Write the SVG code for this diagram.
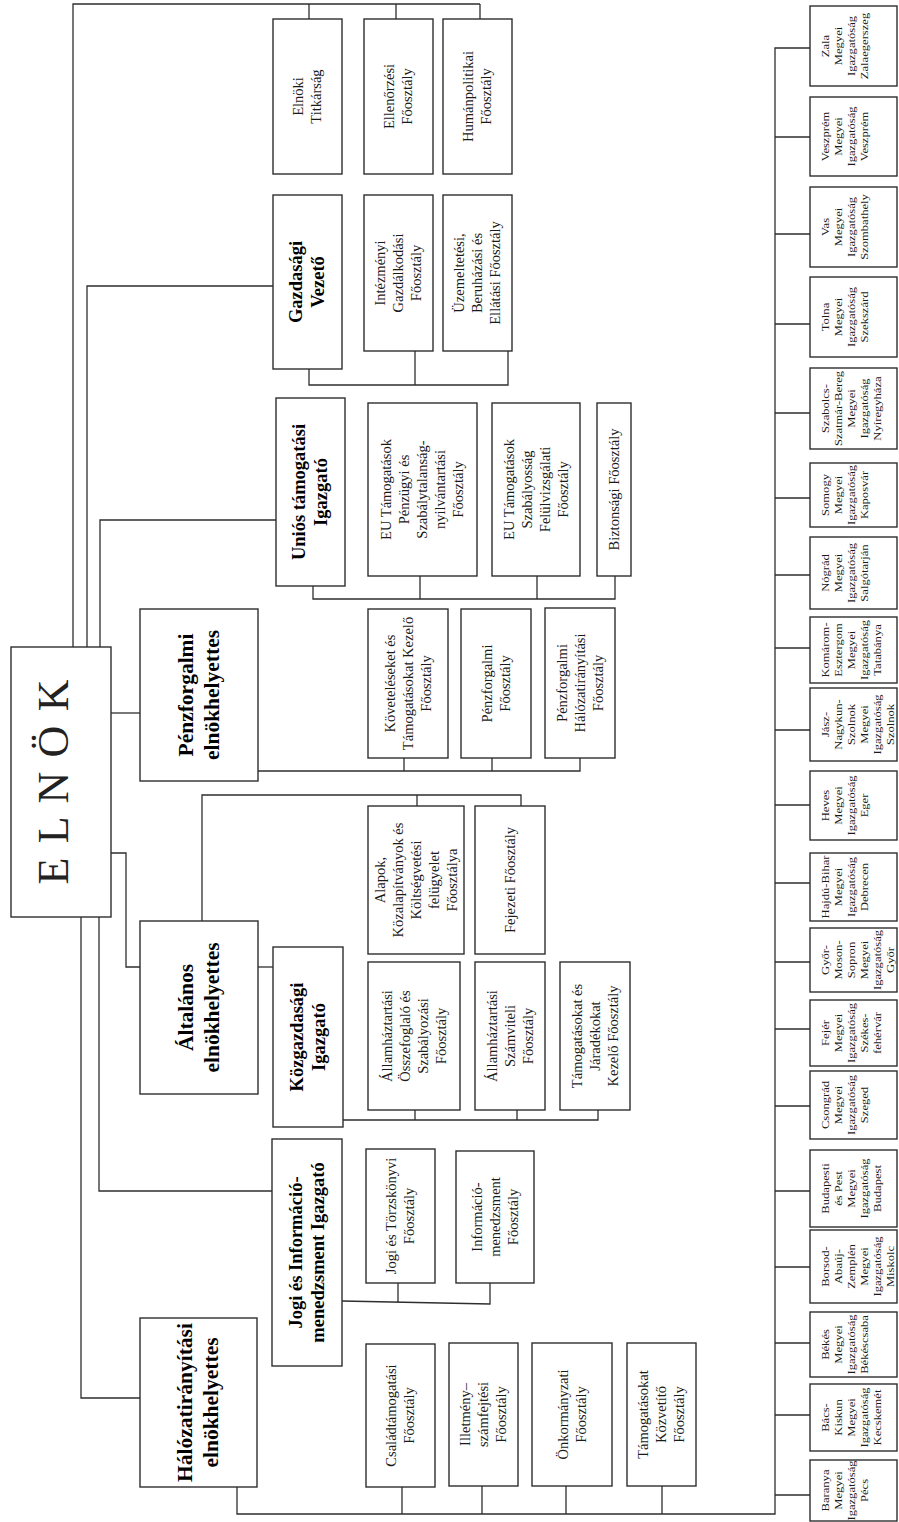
<svg xmlns="http://www.w3.org/2000/svg" width="899" height="1522" viewBox="0 0 899 1522">
<style>
.box{fill:#fff;stroke:#2e2e2e;stroke-width:1.4}
.con{fill:none;stroke:#2e2e2e;stroke-width:1.3}
.t{font-family:"Liberation Serif","Times New Roman",serif;fill:#1a1a1a;text-anchor:middle}
.sub{font-size:14.5px}
.dir{font-size:18.5px;font-weight:bold;fill:#000}
.vp{font-size:21.5px;font-weight:bold;fill:#000}
.cty{font-size:10.5px}
.el{font-size:44px;fill:#222}
</style>
<rect width="899" height="1522" fill="#fff"/>
<g id="connectors" class="con">
<path d="M73,647V4H480M309,4V19M396,4V19M480,4V19"/>
<path d="M87,647V286H273"/>
<path d="M309,369V385H508V351M415,351V385"/>
<path d="M100,647V520H276"/>
<path d="M313,586V599H615V576M420,576V599M537,576V599"/>
<path d="M111,713H140"/>
<path d="M258,771H580V758M404,758V771M492,758V771"/>
<path d="M111,853H126V967H140"/>
<path d="M202,921V795H521V806M417,795V806"/>
<path d="M258,967H273"/>
<path d="M343,1120H598V1110M415,1110V1120M517,1110V1120"/>
<path d="M99,917V1191H272"/>
<path d="M342,1301L490,1304V1283M398,1283V1303"/>
<path d="M81,917V1398H140"/>
<path d="M237,1487V1514H775V48H810M402,1487V1514M482,1486V1514M566,1486V1514M662,1486V1514"/>
<path d="M775,137H810M775,234H810M775,324H810M775,413H810M775,498H810M775,575H810M775,648H810M775,730H810M775,805H810M775,883H810M775,962H810M775,1029H810M775,1106H810M775,1191H810M775,1267H810M775,1343H810M775,1415H810M775,1495H810"/>
</g>

<g id="elnok">
<rect class="box" x="11" y="647" width="100" height="270"/>
<text class="t el" transform="translate(61,782) rotate(-90)" x="0" y="7" textLength="205" lengthAdjust="spacing">E L N Ö K</text>
</g>

<g id="gazdasagi-vezeto">
<rect class="box" x="273" y="195" width="69" height="174"/>
<text class="t dir" transform="translate(307.5,282) rotate(-90)"><tspan x="0" y="-5.1">Gazdasági</tspan><tspan x="0" y="16.9">Vezető</tspan></text>
</g>
<g id="unios">
<rect class="box" x="276" y="398" width="69" height="188"/>
<text class="t dir" transform="translate(310.5,492) rotate(-90)"><tspan x="0" y="-5.1">Uniós támogatási</tspan><tspan x="0" y="16.9">Igazgató</tspan></text>
</g>
<g id="penzforgalmi-eh">
<rect class="box" x="140" y="609" width="118" height="172"/>
<text class="t vp" transform="translate(199,695) rotate(-90)"><tspan x="0" y="-6.1">Pénzforgalmi</tspan><tspan x="0" y="19.9">elnökhelyettes</tspan></text>
</g>
<g id="altalanos-eh">
<rect class="box" x="140" y="921" width="118" height="173"/>
<text class="t vp" transform="translate(199,1007.5) rotate(-90)"><tspan x="0" y="-6.1">Általános</tspan><tspan x="0" y="19.9">elnökhelyettes</tspan></text>
</g>
<g id="kozgazdasagi">
<rect class="box" x="273" y="947" width="70" height="180"/>
<text class="t dir" transform="translate(308,1037) rotate(-90)"><tspan x="0" y="-5.1">Közgazdasági</tspan><tspan x="0" y="16.9">Igazgató</tspan></text>
</g>
<g id="jogi-igazgato">
<rect class="box" x="272" y="1139" width="70" height="227"/>
<text class="t dir" transform="translate(307,1252.5) rotate(-90)"><tspan x="0" y="-5.1">Jogi és Információ-</tspan><tspan x="0" y="16.9">menedzsment Igazgató</tspan></text>
</g>
<g id="halozatiranyitasi-eh">
<rect class="box" x="140" y="1318" width="117" height="169"/>
<text class="t vp" transform="translate(198.5,1402.5) rotate(-90)"><tspan x="0" y="-6.1">Hálózatirányítási</tspan><tspan x="0" y="19.9">elnökhelyettes</tspan></text>
</g>

<g id="elnoki-titkarsag">
<rect class="box" x="273" y="19" width="69" height="155"/>
<text class="t sub" transform="translate(307.5,96.5) rotate(-90)"><tspan x="0" y="-4.4">Elnöki</tspan><tspan x="0" y="13.6">Titkárság</tspan></text>
</g>
<g id="ellenorzesi">
<rect class="box" x="364" y="19" width="69" height="155"/>
<text class="t sub" transform="translate(398.5,96.5) rotate(-90)"><tspan x="0" y="-4.4">Ellenőrzési</tspan><tspan x="0" y="13.6">Főosztály</tspan></text>
</g>
<g id="humanpolitikai">
<rect class="box" x="443" y="19" width="69" height="155"/>
<text class="t sub" transform="translate(477.5,96.5) rotate(-90)"><tspan x="0" y="-4.4">Humánpolitikai</tspan><tspan x="0" y="13.6">Főosztály</tspan></text>
</g>
<g id="intezmenyi">
<rect class="box" x="364" y="195" width="69" height="156"/>
<text class="t sub" transform="translate(398.5,273) rotate(-90)"><tspan x="0" y="-13.4">Intézményi</tspan><tspan x="0" y="4.6">Gazdálkodási</tspan><tspan x="0" y="22.6">Főosztály</tspan></text>
</g>
<g id="uzemeltetesi">
<rect class="box" x="443" y="195" width="69" height="156"/>
<text class="t sub" transform="translate(477.5,273) rotate(-90)"><tspan x="0" y="-13.4">Üzemeltetési,</tspan><tspan x="0" y="4.6">Beruházási és</tspan><tspan x="0" y="22.6">Ellátási Főosztály</tspan></text>
</g>
<g id="eu-penzugyi">
<rect class="box" x="368" y="403" width="109" height="173"/>
<text class="t sub" transform="translate(422.5,489.5) rotate(-90)"><tspan x="0" y="-31.4">EU Támogatások</tspan><tspan x="0" y="-13.4">Pénzügyi és</tspan><tspan x="0" y="4.6">Szabálytalanság-</tspan><tspan x="0" y="22.6">nyilvántartási</tspan><tspan x="0" y="40.6">Főosztály</tspan></text>
</g>
<g id="eu-szabalyossag">
<rect class="box" x="492" y="403" width="88" height="173"/>
<text class="t sub" transform="translate(536,489.5) rotate(-90)"><tspan x="0" y="-22.4">EU Támogatások</tspan><tspan x="0" y="-4.4">Szabályosság</tspan><tspan x="0" y="13.6">Felülvizsgálati</tspan><tspan x="0" y="31.6">Főosztály</tspan></text>
</g>
<g id="biztonsagi">
<rect class="box" x="597" y="403" width="34" height="173"/>
<text class="t sub" transform="translate(614,489.5) rotate(-90)"><tspan x="0" y="4.6">Biztonsági Főosztály</tspan></text>
</g>
<g id="koveteleseket">
<rect class="box" x="368" y="609" width="80" height="149"/>
<text class="t sub" transform="translate(408,683.5) rotate(-90)"><tspan x="0" y="-13.4">Követeléseket és</tspan><tspan x="0" y="4.6">Támogatásokat Kezelő</tspan><tspan x="0" y="22.6">Főosztály</tspan></text>
</g>
<g id="penzforgalmi-fo">
<rect class="box" x="461" y="609" width="70" height="149"/>
<text class="t sub" transform="translate(496,683.5) rotate(-90)"><tspan x="0" y="-4.4">Pénzforgalmi</tspan><tspan x="0" y="13.6">Főosztály</tspan></text>
</g>
<g id="penzforgalmi-halozat">
<rect class="box" x="545" y="608" width="70" height="150"/>
<text class="t sub" transform="translate(580,683) rotate(-90)"><tspan x="0" y="-13.4">Pénzforgalmi</tspan><tspan x="0" y="4.6">Hálózatirányítási</tspan><tspan x="0" y="22.6">Főosztály</tspan></text>
</g>
<g id="alapok">
<rect class="box" x="368" y="806" width="96" height="148"/>
<text class="t sub" transform="translate(416,880) rotate(-90)"><tspan x="0" y="-31.4">Alapok,</tspan><tspan x="0" y="-13.4">Közalapítványok és</tspan><tspan x="0" y="4.6">Költségvetési</tspan><tspan x="0" y="22.6">felügyelet</tspan><tspan x="0" y="40.6">Főosztálya</tspan></text>
</g>
<g id="fejezeti">
<rect class="box" x="475" y="806" width="70" height="148"/>
<text class="t sub" transform="translate(510,880) rotate(-90)"><tspan x="0" y="4.6">Fejezeti Főosztály</tspan></text>
</g>
<g id="aht-osszefoglalo">
<rect class="box" x="368" y="962" width="92" height="148"/>
<text class="t sub" transform="translate(414,1036) rotate(-90)"><tspan x="0" y="-22.4">Államháztartási</tspan><tspan x="0" y="-4.4">Összefoglaló és</tspan><tspan x="0" y="13.6">Szabályozási</tspan><tspan x="0" y="31.6">Főosztály</tspan></text>
</g>
<g id="aht-szamviteli">
<rect class="box" x="475" y="962" width="70" height="148"/>
<text class="t sub" transform="translate(510,1036) rotate(-90)"><tspan x="0" y="-13.4">Államháztartási</tspan><tspan x="0" y="4.6">Számviteli</tspan><tspan x="0" y="22.6">Főosztály</tspan></text>
</g>
<g id="tamogatasokat-jaradekokat">
<rect class="box" x="560" y="962" width="70" height="148"/>
<text class="t sub" transform="translate(595,1036) rotate(-90)"><tspan x="0" y="-13.4">Támogatásokat és</tspan><tspan x="0" y="4.6">Járadékokat</tspan><tspan x="0" y="22.6">Kezelő Főosztály</tspan></text>
</g>
<g id="jogi-torzskonyvi">
<rect class="box" x="366" y="1149" width="69" height="134"/>
<text class="t sub" transform="translate(400.5,1216) rotate(-90)"><tspan x="0" y="-4.4">Jogi és Törzskönyvi</tspan><tspan x="0" y="13.6">Főosztály</tspan></text>
</g>
<g id="informacio-menedzsment">
<rect class="box" x="456" y="1151" width="78" height="132"/>
<text class="t sub" transform="translate(495,1217) rotate(-90)"><tspan x="0" y="-13.4">Információ-</tspan><tspan x="0" y="4.6">menedzsment</tspan><tspan x="0" y="22.6">Főosztály</tspan></text>
</g>
<g id="csaladtamogatasi">
<rect class="box" x="366" y="1344" width="69" height="143"/>
<text class="t sub" transform="translate(400.5,1415.5) rotate(-90)"><tspan x="0" y="-4.4">Családtámogatási</tspan><tspan x="0" y="13.6">Főosztály</tspan></text>
</g>
<g id="illetmeny">
<rect class="box" x="449" y="1343" width="69" height="143"/>
<text class="t sub" transform="translate(483.5,1414.5) rotate(-90)"><tspan x="0" y="-13.4">Illetmény–</tspan><tspan x="0" y="4.6">számfejtési</tspan><tspan x="0" y="22.6">Főosztály</tspan></text>
</g>
<g id="onkormanyzati">
<rect class="box" x="532" y="1343" width="80" height="143"/>
<text class="t sub" transform="translate(572,1414.5) rotate(-90)"><tspan x="0" y="-4.4">Önkormányzati</tspan><tspan x="0" y="13.6">Főosztály</tspan></text>
</g>
<g id="tamogatasokat-kozvetito">
<rect class="box" x="627" y="1343" width="69" height="143"/>
<text class="t sub" transform="translate(661.5,1414.5) rotate(-90)"><tspan x="0" y="-13.4">Támogatásokat</tspan><tspan x="0" y="4.6">Közvetítő</tspan><tspan x="0" y="22.6">Főosztály</tspan></text>
</g>

<g id="zala"><rect class="box" x="810" y="6" width="87" height="80"/>
<text class="t cty" transform="translate(810,46) rotate(-90) scale(1.2,1)"><tspan x="0" y="19.4">Zala</tspan><tspan x="0" y="32.4">Megyei</tspan><tspan x="0" y="45.4">Igazgatóság</tspan><tspan x="0" y="58.4">Zalaegerszeg</tspan></text></g>
<g id="veszprem"><rect class="box" x="810" y="97" width="87" height="79"/>
<text class="t cty" transform="translate(810,136.5) rotate(-90) scale(1.2,1)"><tspan x="0" y="19.4">Veszprém</tspan><tspan x="0" y="32.4">Megyei</tspan><tspan x="0" y="45.4">Igazgatóság</tspan><tspan x="0" y="58.4">Veszprém</tspan></text></g>
<g id="vas"><rect class="box" x="810" y="187" width="87" height="80"/>
<text class="t cty" transform="translate(810,227) rotate(-90) scale(1.2,1)"><tspan x="0" y="19.4">Vas</tspan><tspan x="0" y="32.4">Megyei</tspan><tspan x="0" y="45.4">Igazgatóság</tspan><tspan x="0" y="58.4">Szombathely</tspan></text></g>
<g id="tolna"><rect class="box" x="810" y="277" width="87" height="80"/>
<text class="t cty" transform="translate(810,317) rotate(-90) scale(1.2,1)"><tspan x="0" y="19.4">Tolna</tspan><tspan x="0" y="32.4">Megyei</tspan><tspan x="0" y="45.4">Igazgatóság</tspan><tspan x="0" y="58.4">Szekszárd</tspan></text></g>
<g id="szabolcs"><rect class="box" x="810" y="368" width="87" height="81"/>
<text class="t cty" transform="translate(810,408.5) rotate(-90) scale(1.2,1)"><tspan x="0" y="19.4">Szabolcs-</tspan><tspan x="0" y="32.4">Szatmár-Bereg</tspan><tspan x="0" y="45.4">Megyei</tspan><tspan x="0" y="58.4">Igazgatóság</tspan><tspan x="0" y="71.4">Nyíregyháza</tspan></text></g>
<g id="somogy"><rect class="box" x="810" y="463" width="87" height="64"/>
<text class="t cty" transform="translate(810,495) rotate(-90) scale(1.2,1)"><tspan x="0" y="19.4">Somogy</tspan><tspan x="0" y="32.4">Megyei</tspan><tspan x="0" y="45.4">Igazgatóság</tspan><tspan x="0" y="58.4">Kaposvár</tspan></text></g>
<g id="nograd"><rect class="box" x="810" y="537" width="87" height="72"/>
<text class="t cty" transform="translate(810,573) rotate(-90) scale(1.2,1)"><tspan x="0" y="19.4">Nógrád</tspan><tspan x="0" y="32.4">Megyei</tspan><tspan x="0" y="45.4">Igazgatóság</tspan><tspan x="0" y="58.4">Salgótarján</tspan></text></g>
<g id="komarom"><rect class="box" x="810" y="617" width="87" height="66"/>
<text class="t cty" transform="translate(810,650) rotate(-90) scale(1.2,1)"><tspan x="0" y="19.4">Komárom-</tspan><tspan x="0" y="32.4">Esztergom</tspan><tspan x="0" y="45.4">Megyei</tspan><tspan x="0" y="58.4">Igazgatóság</tspan><tspan x="0" y="71.4">Tatabánya</tspan></text></g>
<g id="jasz"><rect class="box" x="810" y="688" width="87" height="73"/>
<text class="t cty" transform="translate(810,724.5) rotate(-90) scale(1.2,1)"><tspan x="0" y="19.4">Jász-</tspan><tspan x="0" y="32.4">Nagykun-</tspan><tspan x="0" y="45.4">Szolnok</tspan><tspan x="0" y="58.4">Megyei</tspan><tspan x="0" y="71.4">Igazgatóság</tspan><tspan x="0" y="84.4">Szolnok</tspan></text></g>
<g id="heves"><rect class="box" x="810" y="771" width="87" height="69"/>
<text class="t cty" transform="translate(810,805.5) rotate(-90) scale(1.2,1)"><tspan x="0" y="19.4">Heves</tspan><tspan x="0" y="32.4">Megyei</tspan><tspan x="0" y="45.4">Igazgatóság</tspan><tspan x="0" y="58.4">Eger</tspan></text></g>
<g id="hajdu"><rect class="box" x="810" y="853" width="87" height="68"/>
<text class="t cty" transform="translate(810,887) rotate(-90) scale(1.2,1)"><tspan x="0" y="19.4">Hajdú-Bihar</tspan><tspan x="0" y="32.4">Megyei</tspan><tspan x="0" y="45.4">Igazgatóság</tspan><tspan x="0" y="58.4">Debrecen</tspan></text></g>
<g id="gyor"><rect class="box" x="810" y="928" width="87" height="64"/>
<text class="t cty" transform="translate(810,960) rotate(-90) scale(1.2,1)"><tspan x="0" y="19.4">Győr-</tspan><tspan x="0" y="32.4">Moson-</tspan><tspan x="0" y="45.4">Sopron</tspan><tspan x="0" y="58.4">Megyei</tspan><tspan x="0" y="71.4">Igazgatóság</tspan><tspan x="0" y="84.4">Győr</tspan></text></g>
<g id="fejer"><rect class="box" x="810" y="1000" width="87" height="66"/>
<text class="t cty" transform="translate(810,1033) rotate(-90) scale(1.2,1)"><tspan x="0" y="19.4">Fejér</tspan><tspan x="0" y="32.4">Megyei</tspan><tspan x="0" y="45.4">Igazgatóság</tspan><tspan x="0" y="58.4">Székes-</tspan><tspan x="0" y="71.4">fehérvár</tspan></text></g>
<g id="csongrad"><rect class="box" x="810" y="1071" width="87" height="68"/>
<text class="t cty" transform="translate(810,1105) rotate(-90) scale(1.2,1)"><tspan x="0" y="19.4">Csongrád</tspan><tspan x="0" y="32.4">Megyei</tspan><tspan x="0" y="45.4">Igazgatóság</tspan><tspan x="0" y="58.4">Szeged</tspan></text></g>
<g id="budapesti"><rect class="box" x="810" y="1150" width="87" height="77"/>
<text class="t cty" transform="translate(810,1188.5) rotate(-90) scale(1.2,1)"><tspan x="0" y="19.4">Budapesti</tspan><tspan x="0" y="32.4">és Pest</tspan><tspan x="0" y="45.4">Megyei</tspan><tspan x="0" y="58.4">Igazgatóság</tspan><tspan x="0" y="71.4">Budapest</tspan></text></g>
<g id="borsod"><rect class="box" x="810" y="1230" width="87" height="73"/>
<text class="t cty" transform="translate(810,1266.5) rotate(-90) scale(1.2,1)"><tspan x="0" y="19.4">Borsod-</tspan><tspan x="0" y="32.4">Abaúj-</tspan><tspan x="0" y="45.4">Zemplén</tspan><tspan x="0" y="58.4">Megyei</tspan><tspan x="0" y="71.4">Igazgatóság</tspan><tspan x="0" y="84.4">Miskolc</tspan></text></g>
<g id="bekes"><rect class="box" x="810" y="1312" width="87" height="65"/>
<text class="t cty" transform="translate(810,1344.5) rotate(-90) scale(1.2,1)"><tspan x="0" y="19.4">Békés</tspan><tspan x="0" y="32.4">Megyei</tspan><tspan x="0" y="45.4">Igazgatóság</tspan><tspan x="0" y="58.4">Békéscsaba</tspan></text></g>
<g id="bacs"><rect class="box" x="810" y="1384" width="87" height="67"/>
<text class="t cty" transform="translate(810,1417.5) rotate(-90) scale(1.2,1)"><tspan x="0" y="19.4">Bács-</tspan><tspan x="0" y="32.4">Kiskun</tspan><tspan x="0" y="45.4">Megyei</tspan><tspan x="0" y="58.4">Igazgatóság</tspan><tspan x="0" y="71.4">Kecskemét</tspan></text></g>
<g id="baranya"><rect class="box" x="810" y="1460" width="87" height="61"/>
<text class="t cty" transform="translate(810,1490.5) rotate(-90) scale(1.2,1)"><tspan x="0" y="19.4">Baranya</tspan><tspan x="0" y="32.4">Megyei</tspan><tspan x="0" y="45.4">Igazgatóság</tspan><tspan x="0" y="58.4">Pécs</tspan></text></g>
</svg>
